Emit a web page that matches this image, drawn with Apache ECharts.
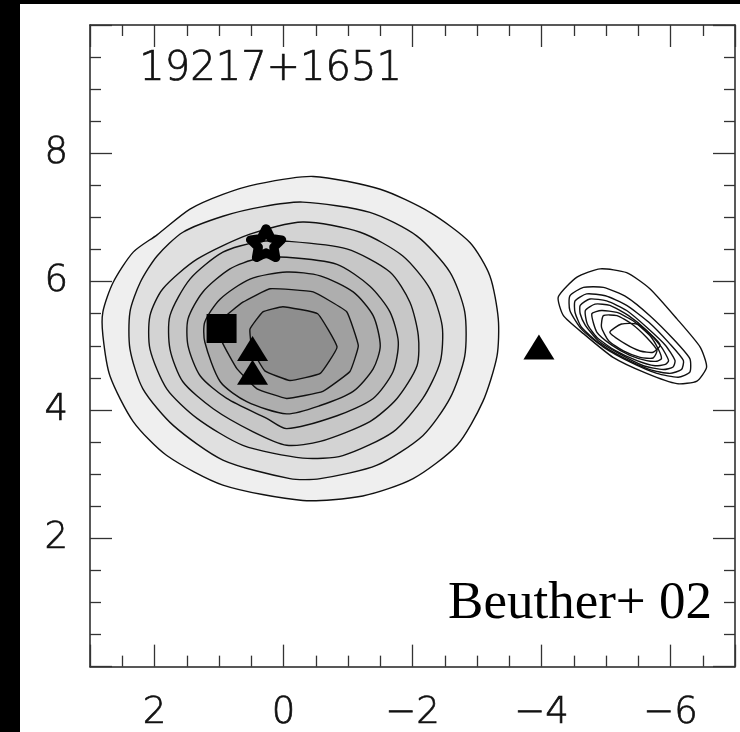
<!DOCTYPE html>
<html>
<head>
<meta charset="utf-8">
<script src="https://cdn.jsdelivr.net/npm/echarts@6/dist/echarts.min.js"></script>
<style>
  html, body { margin: 0; padding: 0; background: #000; width: 740px; height: 732px; overflow: hidden; }
  #main { position: absolute; left: 20px; top: 4px; width: 720px; height: 728px; background: #fff; }
</style>
</head>
<body>
<div id="main"></div>
<script>
// ---- Data (offsets in arcsec) ----
var xTickLabels = ['2', '0', '\u22122', '\u22124', '\u22126'];
var yTickLabels = ['2', '4', '6', '8'];

// Main source: filled contours, outermost first
var mainLevel1 = [[-0.46,7.64],[-1.50,7.44],[-2.27,7.08],[-2.89,6.61],[-3.20,6.09],[-3.33,5.42],[-3.31,4.84],[-3.09,4.13],[-2.69,3.45],[-2.01,2.93],[-1.23,2.66],[-0.30,2.59],[0.94,2.83],[1.81,3.29],[2.33,3.82],[2.69,4.53],[2.80,5.16],[2.80,5.53],[2.64,5.99],[2.33,6.46],[1.96,6.73],[1.45,7.13],[0.94,7.36],[0.41,7.52]];
var mainLevel2 = [[-0.30,7.24],[-1.34,7.08],[-2.07,6.71],[-2.58,6.15],[-2.81,5.53],[-2.81,4.84],[-2.58,4.18],[-2.16,3.60],[-1.45,3.14],[-0.57,2.93],[-0.10,2.93],[0.94,3.22],[1.71,3.76],[2.18,4.33],[2.38,4.95],[2.38,5.53],[2.22,5.99],[1.96,6.40],[1.56,6.77],[0.94,7.02],[0.32,7.17]];
var mainLevel3 = [[-0.30,6.93],[-1.19,6.77],[-1.85,6.40],[-2.27,5.89],[-2.46,5.31],[-2.43,4.75],[-2.16,4.18],[-1.70,3.66],[-0.92,3.29],[-0.30,3.25],[0.63,3.45],[1.34,3.87],[1.81,4.33],[2.07,4.95],[2.07,5.47],[1.87,5.89],[1.34,6.35],[0.52,6.74]];
var mainLevel4 = [[-0.05,6.63],[-0.98,6.51],[-1.65,6.15],[-1.96,5.68],[-2.09,5.16],[-2.07,4.69],[-1.76,4.18],[-1.34,3.82],[-0.57,3.51],[-0.05,3.45],[0.47,3.66],[1.09,4.02],[1.56,4.44],[1.76,4.95],[1.76,5.47],[1.45,6.04],[0.94,6.46],[0.40,6.62]];
var mainLevel5 = [[-0.05,6.38],[-0.83,6.27],[-1.34,5.93],[-1.65,5.53],[-1.78,5.06],[-1.70,4.60],[-1.39,4.18],[-0.83,3.91],[-0.05,3.71],[0.26,3.87],[0.88,4.18],[1.29,4.53],[1.48,5.00],[1.48,5.42],[1.25,5.84],[0.83,6.20],[0.40,6.36]];
var mainLevel6 = [[-0.05,6.15],[-0.57,6.09],[-1.08,5.84],[-1.39,5.47],[-1.50,5.00],[-1.39,4.64],[-1.08,4.29],[-0.57,4.07],[-0.05,3.94],[0.57,4.13],[0.98,4.44],[1.22,5.06],[1.22,5.37],[0.98,5.73],[0.52,6.04]];
var mainLevel7 = [[0.21,5.89],[-0.46,5.84],[-0.98,5.53],[-1.16,5.00],[-1.03,4.60],[-0.61,4.29],[-0.05,4.18],[0.41,4.33],[0.72,4.64],[0.95,5.06],[0.94,5.42],[0.63,5.68]];
var mainLevel8 = [[0.01,5.61],[-0.53,5.50],[-0.83,4.98],[-0.57,4.57],[-0.10,4.46],[0.29,4.61],[0.49,4.95],[0.52,5.26],[0.32,5.53]];
var mainGrays = ['#efefef', '#e0e0e0', '#d3d3d3', '#c7c7c7', '#bbbbbb', '#aeaeae', '#a0a0a0', '#8e8e8e'];

// Second source: open contours, outermost first
var smallLevel1 = [[-4.26,5.76],[-4.55,6.07],[-4.91,6.20],[-5.32,6.14],[-5.68,5.89],[-6.10,5.42],[-6.46,4.98],[-6.56,4.67],[-6.41,4.45],[-6.10,4.41],[-5.63,4.57],[-5.11,4.82],[-4.65,5.19],[-4.34,5.47]];
var smallLevel2 = [[-4.44,5.78],[-4.65,5.91],[-4.96,5.91],[-5.32,5.76],[-5.68,5.47],[-6.04,5.11],[-6.30,4.80],[-6.30,4.59],[-6.12,4.51],[-5.79,4.57],[-5.37,4.75],[-4.96,4.98],[-4.62,5.26],[-4.44,5.55]];
var smallLevel3 = [[-4.52,5.70],[-4.70,5.81],[-4.99,5.78],[-5.32,5.63],[-5.66,5.37],[-5.99,5.03],[-6.20,4.77],[-6.17,4.63],[-5.99,4.57],[-5.68,4.63],[-5.30,4.80],[-4.91,5.03],[-4.62,5.29],[-4.52,5.52]];
var smallLevel4 = [[-4.60,5.63],[-4.75,5.73],[-5.01,5.70],[-5.32,5.55],[-5.63,5.29],[-5.92,5.01],[-6.07,4.77],[-6.04,4.67],[-5.89,4.63],[-5.58,4.69],[-5.22,4.87],[-4.88,5.08],[-4.68,5.32],[-4.60,5.50]];
var smallLevel5 = [[-4.68,5.55],[-4.83,5.65],[-5.06,5.63],[-5.35,5.47],[-5.63,5.24],[-5.86,4.98],[-5.97,4.77],[-5.92,4.71],[-5.76,4.69],[-5.48,4.77],[-5.14,4.93],[-4.86,5.13],[-4.71,5.34]];
var smallLevel6 = [[-4.78,5.50],[-4.93,5.55],[-5.17,5.52],[-5.42,5.39],[-5.68,5.16],[-5.81,4.95],[-5.86,4.80],[-5.79,4.76],[-5.63,4.77],[-5.37,4.85],[-5.09,5.01],[-4.86,5.21]];
var smallLevel7 = [[-4.96,5.47],[-5.17,5.47],[-5.40,5.34],[-5.63,5.13],[-5.79,4.93],[-5.73,4.81],[-5.53,4.82],[-5.27,4.92],[-5.04,5.08],[-4.93,5.29]];
var smallLevel8 = [[-5.06,5.21],[-5.24,5.34],[-5.48,5.34],[-5.68,5.19],[-5.84,5.01],[-5.73,4.90],[-5.53,4.92],[-5.30,5.03]];

// Markers
var starPoints = [[0.27, 6.60]];
var squarePoints = [[0.96, 5.27]];
var trianglePoints = [[0.48, 4.96], [0.48, 4.59], [-3.96, 4.98]];

var titleText = '19217+1651';
var creditText = 'Beuther+ 02';

// ---- Chart ----
var mainContours = [mainLevel1, mainLevel2, mainLevel3, mainLevel4, mainLevel5, mainLevel6, mainLevel7, mainLevel8];
var smallContours = [smallLevel1, smallLevel2, smallLevel3, smallLevel4, smallLevel5, smallLevel6, smallLevel7, smallLevel8];

var FONT = 'DejaVu Sans';
var chart = echarts.init(document.getElementById('main'), null, { renderer: 'canvas' });

function xFmt(v) {
  if (Math.abs(v % 2) > 1e-9) return '';
  var s = String(Math.round(v));
  if (s === '-0') s = '0';
  s = s.replace('-', '\u2212');
  return xTickLabels.indexOf(s) >= 0 ? s : '';
}
function yFmt(v) {
  var s = String(Math.round(v));
  if (Math.abs(v % 2) > 1e-9) return '';
  return yTickLabels.indexOf(s) >= 0 ? s : '';
}

var lineCol = '#222';
var labelStyle = { fontSize: 37, fontFamily: FONT, fontWeight: 200, color: '#111', textBorderColor: '#111', textBorderWidth: 0.7 };
function xAxisCfg(pos, showLabel) {
  return {
    type: 'value', position: pos, min: -7, max: 3, inverse: true, splitNumber: 5,
    axisLine: { show: true, onZero: false, lineStyle: { color: lineCol, width: 1.5 } },
    axisTick: { show: true, inside: true, length: 22, lineStyle: { color: '#333', width: 1.3 } },
    minorTick: { show: true, splitNumber: 4, length: 11, lineStyle: { color: '#333', width: 1.3 } },
    splitLine: { show: false },
    axisLabel: Object.assign({ show: showLabel, margin: 28, formatter: xFmt }, labelStyle)
  };
}
function yAxisCfg(pos, showLabel) {
  return {
    type: 'value', position: pos, min: 0, max: 10, interval: 2,
    axisLine: { show: true, onZero: false, lineStyle: { color: lineCol, width: 1.5 } },
    axisTick: { show: true, inside: true, length: 22, lineStyle: { color: '#333', width: 1.3 } },
    minorTick: { show: true, splitNumber: 4, length: 11, lineStyle: { color: '#333', width: 1.3 } },
    splitLine: { show: false },
    axisLabel: Object.assign({ show: showLabel, margin: 22, formatter: yFmt }, labelStyle)
  };
}

var starPath = 'path://M50,0 L64.7,29.8 L97.6,34.5 L73.8,57.7 L79.4,90.5 L50,75 L20.6,90.5 L26.2,57.7 L2.4,34.5 L35.3,29.8 Z';

var option = {
  animation: false,
  backgroundColor: '#fff',
  grid: { left: 70, top: 21, width: 645, height: 644, containLabel: false },
  xAxis: [xAxisCfg('bottom', true), xAxisCfg('top', false)],
  yAxis: [yAxisCfg('left', true), yAxisCfg('right', false)],
  graphic: [
    { type: 'text', left: 119, top: 45, style: { text: titleText, font: '200 40px "DejaVu Sans"', fill: '#111', stroke: '#111', lineWidth: 0.7 } },
    { type: 'text', right: 28, top: 574, style: { text: creditText, font: '53px "Liberation Serif"', fill: '#000' } }
  ],
  series: [
    {
      type: 'custom', name: 'main', xAxisIndex: 0, yAxisIndex: 0, silent: true,
      data: mainContours.map(function (c, i) { return [c[0][0], c[0][1], i]; }),
      renderItem: function (params, api) {
        var i = params.dataIndex;
        var pts = mainContours[i].map(function (p) { return api.coord(p); });
        return { type: 'polygon', shape: { points: pts, smooth: i >= 6 ? 0.1 : 0.25 },
          style: { fill: mainGrays[i], stroke: '#111', lineWidth: 1.4 } };
      }
    },
    {
      type: 'custom', name: 'second', xAxisIndex: 0, yAxisIndex: 0, silent: true,
      data: smallContours.map(function (c, i) { return [c[0][0], c[0][1], i]; }),
      renderItem: function (params, api) {
        var i = params.dataIndex;
        var pts = smallContours[i].map(function (p) { return api.coord(p); });
        return { type: 'polygon', shape: { points: pts, smooth: 0.2 },
          style: { fill: 'none', stroke: '#111', lineWidth: 1.4 } };
      }
    },
    {
      type: 'scatter', name: 'star', data: starPoints, symbol: starPath, symbolSize: [31, 29],
      itemStyle: { color: 'rgba(0,0,0,0)', borderColor: '#000', borderWidth: 9, borderJoin: 'round', opacity: 1 }, silent: true
    },
    {
      type: 'scatter', name: 'square', data: squarePoints, symbol: 'rect', symbolSize: [30, 29],
      itemStyle: { color: '#000', opacity: 1 }, silent: true
    },
    {
      type: 'scatter', name: 'triangle', data: trianglePoints, symbol: 'triangle', symbolSize: [31, 25],
      itemStyle: { color: '#000', opacity: 1 }, silent: true
    }
  ]
};
chart.setOption(option);
</script>
</body>
</html>
